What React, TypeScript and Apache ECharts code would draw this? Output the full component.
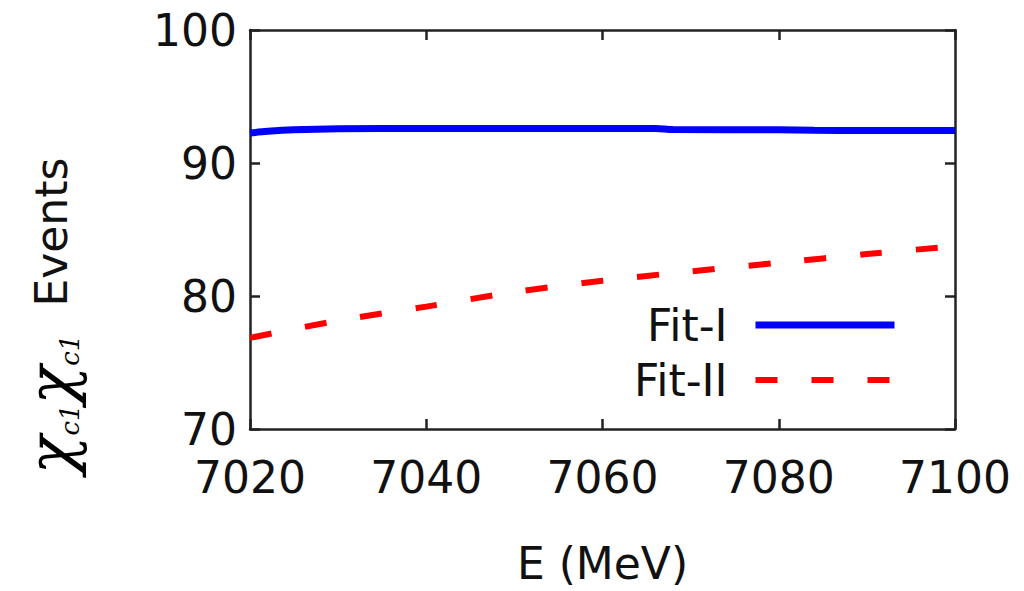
import React, { useEffect, useRef } from "react";
import * as echarts from "echarts";

const xTicks = { min: 7020, max: 7100, interval: 20 };
const yTicks = { min: 70, max: 100, interval: 10 };

const fit1E = [7020, 7022, 7025, 7030, 7040, 7050, 7060, 7066, 7068, 7080, 7084, 7090, 7100];
const fit1Events = [92.25, 92.38, 92.5, 92.58, 92.6, 92.6, 92.6, 92.6, 92.52, 92.5, 92.46, 92.45, 92.45];

const fit2E = [7020, 7030, 7040, 7050, 7060, 7070, 7080, 7090, 7100];
const fit2Events = [76.85, 78.15, 79.2, 80.3, 81.15, 81.85, 82.5, 83.15, 83.75];

const seriesNames = ["Fit-I", "Fit-II"];
const xTitle = "E (MeV)";

const FONT = "DejaVu Sans";
const FRAME = "#222";
const BLUE = "#0000ff";
const RED = "#ff0000";

export default function App() {
  const ref = useRef<HTMLDivElement>(null);
  useEffect(() => {
    if (!ref.current) return;
    const chart = echarts.init(ref.current, null, { renderer: "svg" });
    const frameAxis = {
      axisLine: { show: true, lineStyle: { color: FRAME, width: 2.5 } },
      axisTick: { show: true, inside: true, length: 10, lineStyle: { color: FRAME, width: 2.5 } },
      splitLine: { show: false },
    };
    chart.setOption({
      animation: false,
      backgroundColor: "#fff",
      grid: { left: 250, right: 69, top: 30, bottom: 162, containLabel: false },
      xAxis: [
        {
          type: "value",
          position: "bottom",
          ...xTicks,
          ...frameAxis,
          axisLabel: {
            fontFamily: FONT,
            fontSize: 44,
            color: "#111",
            margin: 26,
            formatter: (v: number) => String(v),
          },
          name: xTitle,
          nameLocation: "middle",
          nameGap: 112,
          nameTextStyle: { fontFamily: FONT, fontSize: 44, color: "#111" },
        },
        {
          type: "value",
          position: "top",
          ...xTicks,
          ...frameAxis,
          axisLabel: { show: false },
        },
      ],
      yAxis: [
        {
          type: "value",
          position: "left",
          ...yTicks,
          ...frameAxis,
          axisLabel: { fontFamily: FONT, fontSize: 44, color: "#111", margin: 13 },
        },
        {
          type: "value",
          position: "right",
          ...yTicks,
          ...frameAxis,
          axisLabel: { show: false },
        },
      ],
      legend: {
        orient: "vertical",
        align: "right",
        right: 121,
        top: 298,
        itemWidth: 139,
        itemHeight: 8,
        itemGap: 11,
        itemStyle: { opacity: 0 },
        textStyle: { fontFamily: FONT, fontSize: 44, color: "#111", lineHeight: 44, padding: [0, 23, 0, 0] },
        data: [
          { name: seriesNames[0], lineStyle: { width: 7, color: BLUE } },
          { name: seriesNames[1], lineStyle: { width: 6, color: RED, type: [22, 34], cap: "butt" } },
        ],
      },
      graphic: [
        {
          type: "text",
          x: 51,
          y: 316,
          rotation: Math.PI / 2,
          style: {
            text: "{chi|χ}{sub|c1}{chi|χ}{sub|c1}{ev|  Events}",
            align: "center",
            verticalAlign: "middle",
            rich: {
              chi: { fontFamily: "DejaVu Serif", fontStyle: "italic", fontSize: 64, fill: "#000", lineHeight: 64, verticalAlign: "middle" },
              sub: { fontFamily: "DejaVu Serif", fontStyle: "italic", fontSize: 26, fill: "#000", lineHeight: 64, verticalAlign: "bottom" },
              ev: { fontFamily: FONT, fontSize: 44, fill: "#111", lineHeight: 64, verticalAlign: "middle" },
            },
          },
        },
      ],
      series: [
        {
          name: seriesNames[0],
          type: "line",
          xAxisIndex: 0,
          yAxisIndex: 0,
          data: fit1E.map((e, i) => [e, fit1Events[i]]),
          showSymbol: false,
          symbol: "none",
          smooth: 0.3,
          lineStyle: { color: BLUE, width: 7 },
          itemStyle: { color: BLUE },
        },
        {
          name: seriesNames[1],
          type: "line",
          xAxisIndex: 0,
          yAxisIndex: 0,
          data: fit2E.map((e, i) => [e, fit2Events[i]]),
          showSymbol: false,
          symbol: "none",
          smooth: 0.3,
          lineStyle: { color: RED, width: 6, type: [22, 34], cap: "butt" },
          itemStyle: { color: RED },
        },
      ],
    });
    return () => chart.dispose();
  }, []);
  return (
    <div
      ref={ref}
      style={{ position: "fixed", left: 0, top: 0, width: 1024, height: 591 }}
    />
  );
}
